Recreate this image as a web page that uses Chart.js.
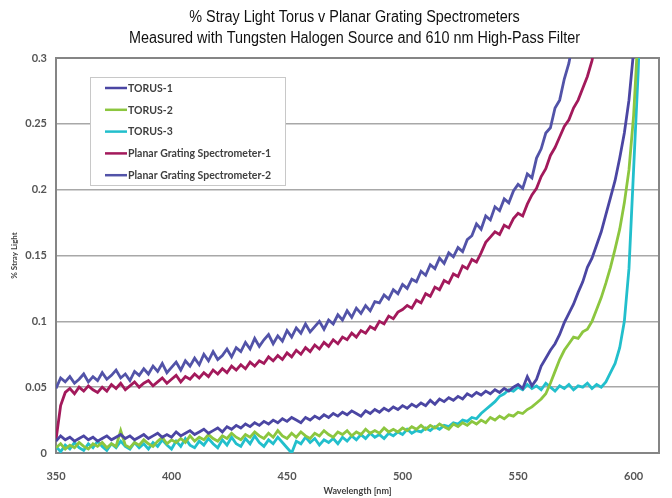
<!DOCTYPE html>
<html>
<head>
<meta charset="utf-8">
<script src="https://cdn.jsdelivr.net/npm/chart.js@4.4.1/dist/chart.umd.min.js"></script>
<style>
html, body { margin: 0; padding: 0; background: #fff; }
#wrap { width: 672px; height: 498px; }
</style>
</head>
<body>
<div id="wrap"><canvas id="chart" width="672" height="498"></canvas></div>
<script>
// wavelength grid, nm (every 2 nm)
const wavelengths = [
  350, 352, 354, 356, 358, 360, 362, 364, 366, 368,
  370, 372, 374, 376, 378, 380, 382, 384, 386, 388,
  390, 392, 394, 396, 398, 400, 402, 404, 406, 408,
  410, 412, 414, 416, 418, 420, 422, 424, 426, 428,
  430, 432, 434, 436, 438, 440, 442, 444, 446, 448,
  450, 452, 454, 456, 458, 460, 462, 464, 466, 468,
  470, 472, 474, 476, 478, 480, 482, 484, 486, 488,
  490, 492, 494, 496, 498, 500, 502, 504, 506, 508,
  510, 512, 514, 516, 518, 520, 522, 524, 526, 528,
  530, 532, 534, 536, 538, 540, 542, 544, 546, 548,
  550, 552, 554, 556, 558, 560, 562, 564, 566, 568,
  570, 572, 574, 576, 578, 580, 582, 584, 586, 588,
  590, 592, 594, 596, 598, 600, 602, 604, 606, 608,
  610
];

const seriesNames = ['TORUS-1', 'TORUS-2', 'TORUS-3', 'Planar Grating Spectrometer-1', 'Planar Grating Spectrometer-2'];
const seriesColors = ['#4b46a3', '#8cc63f', '#22bfcc', '#a3195b', '#5253a8'];

const torus1 = [
  0.009, 0.013, 0.010, 0.012, 0.009, 0.011, 0.013, 0.010, 0.012, 0.009,
  0.011, 0.013, 0.010, 0.012, 0.014, 0.011, 0.013, 0.010, 0.012, 0.014,
  0.011, 0.013, 0.015, 0.012, 0.014, 0.012, 0.016, 0.013, 0.015, 0.017,
  0.014, 0.016, 0.018, 0.015, 0.017, 0.019, 0.016, 0.020, 0.018, 0.021,
  0.019, 0.022, 0.020, 0.023, 0.021, 0.024, 0.022, 0.025, 0.023, 0.026,
  0.024, 0.027, 0.025, 0.023, 0.027, 0.025, 0.028, 0.026, 0.029, 0.027,
  0.030, 0.028, 0.031, 0.029, 0.032, 0.030, 0.028, 0.032, 0.030, 0.033,
  0.031, 0.034, 0.032, 0.035, 0.033, 0.036, 0.034, 0.037, 0.035, 0.038,
  0.036, 0.040, 0.037, 0.041, 0.039, 0.042, 0.040, 0.043, 0.041, 0.045,
  0.043, 0.046, 0.044, 0.047, 0.045, 0.048, 0.046, 0.049, 0.047, 0.050,
  0.052, 0.049, 0.058, 0.051, 0.056, 0.066, 0.072, 0.078, 0.083, 0.090,
  0.099, 0.106, 0.113, 0.122, 0.130, 0.141, 0.148, 0.158, 0.168, 0.181,
  0.194, 0.207, 0.224, 0.243, 0.268, 0.305, null, null, null, null,
  null
];

const torus2 = [
  0.004, 0.007, 0.003, 0.006, 0.004, 0.008, 0.005, 0.003, 0.007, 0.005,
  0.008, 0.004, 0.007, 0.005, 0.017, 0.006, 0.004, 0.008, 0.006, 0.010,
  0.007, 0.005, 0.009, 0.012, 0.007, 0.010, 0.008, 0.011, 0.008, 0.013,
  0.009, 0.012, 0.010, 0.014, 0.011, 0.009, 0.013, 0.011, 0.015, 0.012,
  0.010, 0.014, 0.012, 0.016, 0.013, 0.011, 0.015, 0.012, 0.017, 0.013,
  0.011, 0.015, 0.012, 0.016, 0.013, 0.011, 0.015, 0.013, 0.017, 0.014,
  0.012, 0.016, 0.014, 0.017, 0.013, 0.016, 0.014, 0.018, 0.015, 0.017,
  0.015, 0.019, 0.016, 0.018, 0.016, 0.019, 0.017, 0.020, 0.018, 0.021,
  0.018, 0.021, 0.019, 0.022, 0.020, 0.018, 0.022, 0.020, 0.023, 0.021,
  0.024, 0.022, 0.025, 0.023, 0.027, 0.025, 0.028, 0.026, 0.029, 0.028,
  0.031, 0.030, 0.033, 0.035, 0.038, 0.041, 0.045, 0.053, 0.062, 0.071,
  0.078, 0.083, 0.088, 0.087, 0.092, 0.094, 0.100, 0.109, 0.118, 0.129,
  0.141, 0.155, 0.170, 0.190, 0.215, 0.256, 0.320, null, null, null,
  null
];

const torus3 = [
  0.005, 0.001, 0.006, 0.003, 0.008, 0.004, 0.002, 0.007, 0.004, 0.009,
  0.005, 0.002, 0.007, 0.004, 0.009, 0.005, 0.003, 0.008, 0.004, 0.007,
  0.003, 0.008, 0.005, 0.010, 0.006, 0.003, 0.009, 0.005, 0.011, 0.006,
  0.004, 0.009, 0.006, 0.011, 0.007, 0.004, 0.010, 0.006, 0.012, 0.007,
  0.005, 0.011, 0.007, 0.013, 0.008, 0.005, 0.010, 0.007, 0.012, 0.008,
  0.004, 0.000, 0.009, 0.007, 0.012, 0.008, 0.011, 0.006, 0.010, 0.008,
  0.011, 0.007, 0.012, 0.009, 0.013, 0.010, 0.014, 0.011, 0.015, 0.012,
  0.014, 0.011, 0.015, 0.013, 0.016, 0.014, 0.018, 0.015, 0.017, 0.016,
  0.019, 0.017, 0.020, 0.018, 0.021, 0.020, 0.023, 0.022, 0.025, 0.024,
  0.027, 0.026, 0.030, 0.033, 0.036, 0.039, 0.043, 0.045, 0.048, 0.047,
  0.050, 0.048, 0.052, 0.049, 0.051, 0.048, 0.053, 0.050, 0.047, 0.051,
  0.049, 0.052, 0.048, 0.051, 0.050, 0.053, 0.049, 0.052, 0.050, 0.054,
  0.061, 0.068, 0.080, 0.100, 0.140, 0.215, 0.290, 0.400, null, null,
  null
];

const planar1 = [
  0.010, 0.036, 0.046, 0.049, 0.045, 0.050, 0.047, 0.051, 0.048, 0.046,
  0.050, 0.047, 0.052, 0.049, 0.053, 0.048, 0.051, 0.054, 0.050, 0.053,
  0.055, 0.051, 0.054, 0.057, 0.053, 0.056, 0.059, 0.054, 0.058, 0.056,
  0.060, 0.057, 0.061, 0.058, 0.063, 0.060, 0.064, 0.061, 0.066, 0.063,
  0.067, 0.064, 0.069, 0.066, 0.070, 0.068, 0.073, 0.070, 0.074, 0.071,
  0.076, 0.073, 0.078, 0.075, 0.080, 0.077, 0.082, 0.079, 0.084, 0.081,
  0.086, 0.083, 0.088, 0.086, 0.091, 0.088, 0.093, 0.091, 0.096, 0.094,
  0.100, 0.098, 0.104, 0.102, 0.107, 0.109, 0.112, 0.110, 0.116, 0.114,
  0.121, 0.119, 0.126, 0.124, 0.131, 0.129, 0.136, 0.134, 0.142, 0.140,
  0.147, 0.145, 0.152, 0.160, 0.164, 0.168, 0.166, 0.173, 0.171, 0.178,
  0.182, 0.180, 0.189, 0.196, 0.201, 0.210, 0.216, 0.226, 0.232, 0.240,
  0.248, 0.253, 0.262, 0.268, 0.277, 0.286, 0.298, 0.316, null, null,
  null, null, null, null, null, null, null, null, null, null,
  null
];

const planar2 = [
  0.049, 0.057, 0.054, 0.058, 0.053, 0.056, 0.060, 0.054, 0.058, 0.055,
  0.061, 0.056, 0.059, 0.063, 0.057, 0.060, 0.055, 0.062, 0.059, 0.064,
  0.060, 0.066, 0.062, 0.068, 0.061, 0.065, 0.069, 0.063, 0.070, 0.066,
  0.072, 0.067, 0.075, 0.070, 0.077, 0.071, 0.074, 0.079, 0.073, 0.080,
  0.077, 0.084, 0.079, 0.087, 0.081, 0.086, 0.090, 0.083, 0.089, 0.085,
  0.093, 0.088, 0.095, 0.091, 0.098, 0.092, 0.096, 0.100, 0.094, 0.101,
  0.098, 0.105, 0.101, 0.108, 0.103, 0.110, 0.106, 0.112, 0.108, 0.115,
  0.114, 0.120, 0.117, 0.124, 0.121, 0.128, 0.125, 0.132, 0.130, 0.138,
  0.135, 0.143, 0.140, 0.148, 0.144, 0.152, 0.149, 0.156, 0.153, 0.162,
  0.165, 0.174, 0.170, 0.180, 0.177, 0.187, 0.184, 0.193, 0.190, 0.199,
  0.204, 0.201, 0.212, 0.209, 0.224, 0.231, 0.243, 0.247, 0.262, 0.268,
  0.284, 0.296, 0.315, null, null, null, null, null, null, null,
  null, null, null, null, null, null, null, null, null, null,
  null
];

const seriesValues = [torus1, torus2, torus3, planar1, planar2];

const titleLines = [
  '% Stray Light Torus v Planar Grating Spectrometers',
  'Measured with Tungsten Halogen Source and 610 nm High-Pass Filter'
];

const tickFont = { family: 'Lato, "Open Sans", sans-serif', size: 11, weight: 'bold' };

// narrow title (Arial Narrow look), centred over the plot
const narrowTitle = {
  id: 'narrowTitle',
  afterDraw(chart) {
    const { ctx, chartArea: a } = chart;
    const cx = (a.left + a.right) / 2 - 3;
    ctx.save();
    ctx.font = '16px "Liberation Sans", Arial, sans-serif';
    ctx.fillStyle = '#111111';
    ctx.textAlign = 'center';
    ctx.textBaseline = 'middle';
    titleLines.forEach((line, i) => {
      ctx.save();
      ctx.translate(cx, 18 + i * 21);
      ctx.scale(0.9, 1);
      ctx.fillText(line, 0, 0);
      ctx.restore();
    });
    ctx.restore();
  }
};

// box + legend drawn over the plot (Excel style legend with border)
const frameAndLegend = {
  id: 'frameAndLegend',
  beforeDatasetsDraw(chart) {
    const { ctx, chartArea: a } = chart;
    ctx.save();
    ctx.strokeStyle = '#858585';
    ctx.lineWidth = 2;
    ctx.strokeRect(a.left, a.top, a.right - a.left, a.bottom - a.top);
    ctx.restore();
  },
  afterDatasetsDraw(chart) {
    const { ctx, chartArea: a } = chart;
    const bx = a.left + 34, by = a.top + 19, bw = 195, bh = 108;
    ctx.save();
    ctx.fillStyle = '#ffffff';
    ctx.fillRect(bx, by, bw, bh);
    ctx.strokeStyle = '#c8c8c8';
    ctx.lineWidth = 1;
    ctx.strokeRect(bx + 0.5, by + 0.5, bw, bh);
    ctx.font = 'bold 10.5px Lato, "Open Sans", sans-serif';
    ctx.textBaseline = 'middle';
    chart.data.datasets.forEach((ds, i) => {
      const y = by + 11 + i * 21.8;
      ctx.strokeStyle = ds.borderColor;
      ctx.lineWidth = 2.5;
      ctx.beginPath();
      ctx.moveTo(bx + 15, y);
      ctx.lineTo(bx + 37, y);
      ctx.stroke();
      ctx.fillStyle = '#404040';
      ctx.fillText(ds.label, bx + 38, y + 0.5);
    });
    ctx.restore();
  }
};

new Chart(document.getElementById('chart'), {
  type: 'line',
  data: {
    datasets: seriesNames.map((name, i) => ({
      label: name,
      data: wavelengths.map((w, j) => ({ x: w, y: seriesValues[i][j] })),
      borderColor: seriesColors[i],
      backgroundColor: seriesColors[i],
      borderWidth: 2.8,
      pointRadius: 0,
      tension: 0,
      spanGaps: false
    }))
  },
  options: {
    responsive: false,
    animation: false,
    devicePixelRatio: 1,
    layout: { padding: { left: 0, right: 13, top: 58, bottom: 0 } },
    plugins: {
      legend: { display: false },
      tooltip: { enabled: false },
      title: { display: false }
    },
    scales: {
      x: {
        type: 'linear',
        min: 350,
        max: 611,
        afterFit(scale) { scale.height = 45; },
        ticks: { stepSize: 50, includeBounds: false, font: tickFont, color: '#555555', padding: 17, maxRotation: 0 },
        grid: { display: false, drawTicks: false },
        border: { display: true, color: '#858585', width: 2 },
        title: {
          display: true,
          text: 'Wavelength [nm]',
          color: '#404040',
          font: { family: 'Lato, "Open Sans", sans-serif', size: 9, weight: 'bold' },
          padding: { top: 0, bottom: 2 }
        }
      },
      y: {
        min: 0,
        max: 0.3,
        afterFit(scale) { scale.width = 56; },
        ticks: {
          stepSize: 0.05,
          font: tickFont,
          color: '#555555',
          padding: 9,
          callback: (v) => String(+v.toFixed(2))
        },
        grid: { color: '#a8a8a8', lineWidth: 1.5, drawTicks: false },
        border: { display: true, color: '#858585', width: 2 },
        title: {
          display: true,
          text: '% Stray Light',
          color: '#404040',
          font: { family: 'Lato, "Open Sans", sans-serif', size: 8, weight: 'bold' },
          padding: { top: 10, bottom: 0 }
        }
      }
    }
  },
  plugins: [frameAndLegend, narrowTitle]
});
</script>
</body>
</html>
